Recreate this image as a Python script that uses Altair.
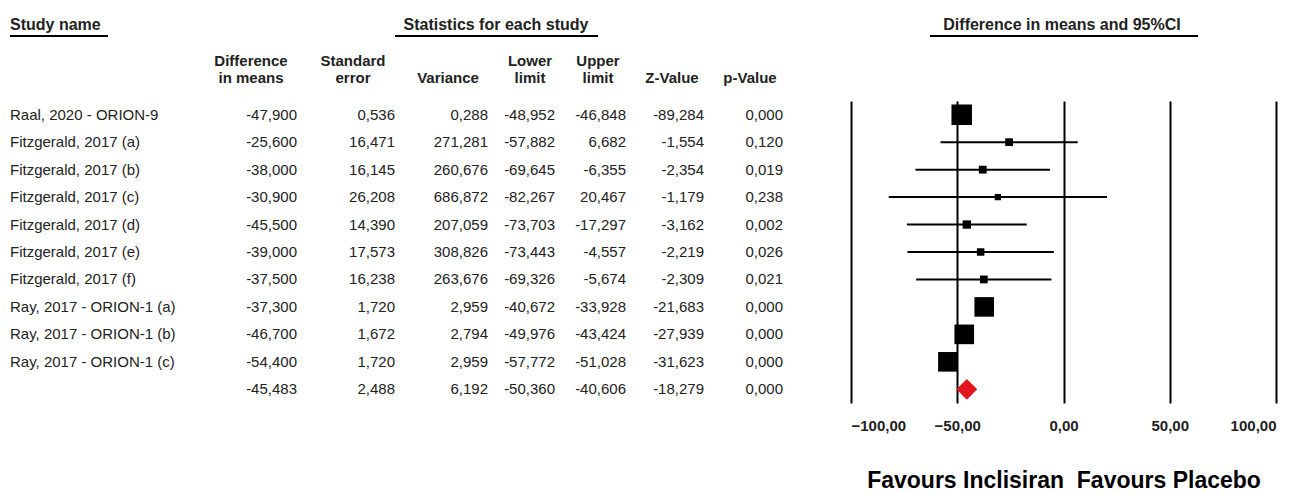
import altair as alt
import pandas as pd
import numpy as np

# ---------------- data ----------------
studies = ["Raal, 2020 - ORION-9", "Fitzgerald, 2017 (a)", "Fitzgerald, 2017 (b)",
           "Fitzgerald, 2017 (c)", "Fitzgerald, 2017 (d)", "Fitzgerald, 2017 (e)",
           "Fitzgerald, 2017 (f)", "Ray, 2017 - ORION-1 (a)", "Ray, 2017 - ORION-1 (b)",
           "Ray, 2017 - ORION-1 (c)", ""]
diff = [-47.900, -25.600, -38.000, -30.900, -45.500, -39.000, -37.500, -37.300, -46.700, -54.400, -45.483]
se = [0.536, 16.471, 16.145, 26.208, 14.390, 17.573, 16.238, 1.720, 1.672, 1.720, 2.488]
variance = [0.288, 271.281, 260.676, 686.872, 207.059, 308.826, 263.676, 2.959, 2.794, 2.959, 6.192]
lower = [-48.952, -57.882, -69.645, -82.267, -73.703, -73.443, -69.326, -40.672, -49.976, -57.772, -50.360]
upper = [-46.848, 6.682, -6.355, 20.467, -17.297, -4.557, -5.674, -33.928, -43.424, -51.028, -40.606]
zval = [-89.284, -1.554, -2.354, -1.179, -3.162, -2.219, -2.309, -21.683, -27.939, -31.623, -18.279]
pval = [0.000, 0.120, 0.019, 0.238, 0.002, 0.026, 0.021, 0.000, 0.000, 0.000, 0.000]
is_summary = [False] * 10 + [True]

col_headers = ["Difference\nin means", "Standard\nerror", "Variance", "Lower\nlimit",
               "Upper\nlimit", "Z-Value", "p-Value"]
axis_ticks = [-100, -50, 0, 50, 100]
axis_title = "Favours Inclisiran\u00a0 Favours Placebo"

# ---------------- derived table ----------------
def fmt(v):
    return f"{v:.3f}".replace(".", ",")

df = pd.DataFrame({
    "row": list(range(len(studies))),
    "study": studies,
    "diff": diff, "lower": lower, "upper": upper,
    "summary": is_summary,
})
num_cols = ["diff_s", "se_s", "var_s", "low_s", "up_s", "z_s", "p_s"]
for name, arr in zip(num_cols, [diff, se, variance, lower, upper, zval, pval]):
    df[name] = [fmt(v) for v in arr]

# random-effects (DerSimonian-Laird) weights for marker sizes
yv = np.array(diff[:10]); vv = np.array(variance[:10])
w = 1 / vv
ybar = (w * yv).sum() / w.sum()
Q = (w * (yv - ybar) ** 2).sum()
C = w.sum() - (w ** 2).sum() / w.sum()
tau2 = max(0.0, (Q - (len(yv) - 1)) / C)
df["weight"] = list(1 / (vv + tau2)) + [np.nan]

studies_df = df[~df["summary"]]
summary_df = df[df["summary"]]

FONT = "Liberation Sans"
TXT = "#222222"

y_scale = alt.Scale(domain=[-0.5, 10.5], nice=False, zero=False, reverse=True)
Y = alt.Y("row:Q", scale=y_scale, axis=None)
x_scale = alt.Scale(domain=[-100, 100], range=[843, 1268], nice=False, zero=False)
x_axis = alt.Axis(values=axis_ticks,
                  labelExpr="replace(format(datum.value, '.2f'), '.', ',')",
                  grid=True, gridColor="black", gridWidth=2, gridOpacity=1,
                  domain=False, ticks=False, tickSize=0,
                  labelFont=FONT, labelFontSize=15, labelFontWeight="bold",
                  labelColor=TXT, labelPadding=15,
                  title=axis_title, titleFont=FONT, titleFontSize=23,
                  titleFontWeight="bold", titleColor="black",
                  titleBaseline="alphabetic", titleY=84)
X = alt.X("diff:Q", scale=x_scale, axis=x_axis)

layers = []

# study names
layers.append(alt.Chart(df).mark_text(align="left", baseline="middle", font=FONT,
                                      fontSize=15, color=TXT)
              .encode(x=alt.value(2), y=Y, text="study:N"))

# numeric columns (right aligned)
col_right = [289, 387, 480, 547, 618, 696, 775]
for name, xr in zip(num_cols, col_right):
    layers.append(alt.Chart(df).mark_text(align="right", baseline="middle", font=FONT,
                                          fontSize=15, color=TXT)
                  .encode(x=alt.value(xr), y=Y, text=f"{name}:N"))

# column headers (one or two lines, last line on the lower header row)
head_center = [243, 345, 440, 522, 590, 664, 742]
line_y = [-40, -23]
for h, xc in zip(col_headers, head_center):
    parts = h.split("\n")
    ys = line_y[-len(parts):]
    for part, yy in zip(parts, ys):
        layers.append(alt.Chart(pd.DataFrame({"t": [part]})).mark_text(
            align="center", baseline="middle",
            font=FONT, fontSize=15, fontWeight="bold", color=TXT)
            .encode(x=alt.value(xc), y=alt.value(yy), text="t:N"))

# section headers + underlines
sections = [("Study name", "left", 2, 2, 100),
            ("Statistics for each study", "center", 488, 387, 590),
            ("Difference in means and 95%CI", "center", 1054, 922, 1190)]
for label, al, xt, x1, x2 in sections:
    layers.append(alt.Chart(pd.DataFrame({"t": [label]})).mark_text(
        align=al, baseline="alphabetic", font=FONT, fontSize=16, fontWeight="bold", color=TXT)
        .encode(x=alt.value(xt), y=alt.value(-71), text="t:N"))
    layers.append(alt.Chart(pd.DataFrame({"t": [label]})).mark_rule(color="black", strokeWidth=2)
                  .encode(x=alt.value(x1), x2=alt.value(x2), y=alt.value(-65)))

# confidence intervals
ci = alt.Chart(studies_df).mark_rule(color="black", strokeWidth=2).encode(
    x=alt.X("lower:Q", scale=x_scale, axis=x_axis), x2="upper:Q", y=Y)
squares = alt.Chart(studies_df).mark_square(filled=True, color="black", opacity=1).encode(
    x=X, y=Y,
    size=alt.Size("weight:Q", scale=alt.Scale(domain=[0, float(np.nanmax(df["weight"]))],
                                              range=[25, 420], zero=False), legend=None))
diamond = alt.Chart(summary_df).mark_point(shape="diamond", filled=True, color="#e3141b",
                                           opacity=1, size=430).encode(x=X, y=Y)

chart = alt.layer(ci, squares, diamond, *layers).properties(
    width=1296, height=302,
    padding={"left": 0, "top": 93, "right": 0, "bottom": 90},
    autosize=alt.AutoSizeParams(type="none"),
    background="white",
).configure_view(stroke=None, strokeWidth=0)

chart.save("out.html", embed_options={"renderer": "svg", "actions": False})
